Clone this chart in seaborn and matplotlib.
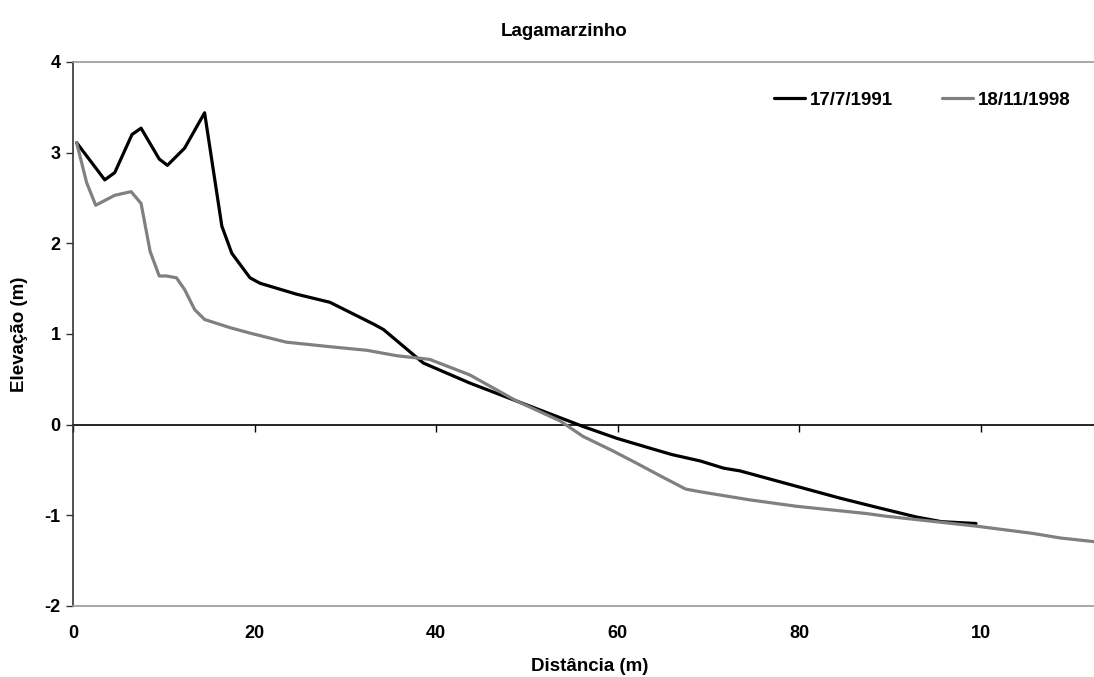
import matplotlib
matplotlib.use("Agg")
import matplotlib.pyplot as plt
import seaborn as sns
import pandas as pd

# Data
dist_1991 = [0.4, 3.5, 4.6, 6.5, 7.5, 9.5, 10.4, 12.3, 14.5, 16.4, 17.5, 19.5, 20.6, 24.6,
             28.3, 33.1, 34.2, 38.6, 43.7, 48.9, 56.2, 59.9, 63.6, 66.0, 69.1, 71.7, 73.5,
             79.0, 84.5, 88.9, 93.0, 95.7, 99.5]
elev_1991 = [3.11, 2.70, 2.78, 3.20, 3.27, 2.93, 2.86, 3.05, 3.44, 2.19, 1.89, 1.62, 1.56, 1.44,
             1.35, 1.11, 1.05, 0.68, 0.46, 0.26, -0.02, -0.15, -0.26, -0.33, -0.40, -0.48, -0.51,
             -0.66, -0.81, -0.92, -1.02, -1.07, -1.09]

dist_1998 = [0.4, 1.5, 2.5, 4.6, 6.4, 7.5, 8.5, 9.5, 10.3, 11.4, 12.3, 13.4, 14.5, 17.3, 19.5,
             23.5, 28.3, 32.4, 35.7, 39.3, 43.7, 48.9, 53.7, 56.2, 59.3, 62.0, 65.0, 67.5, 69.1,
             74.6, 79.7, 87.4, 89.6, 99.6, 105.8, 108.8, 112.5]
elev_1998 = [3.11, 2.67, 2.42, 2.53, 2.57, 2.44, 1.91, 1.64, 1.64, 1.62, 1.49, 1.27, 1.16, 1.07, 1.01,
             0.91, 0.86, 0.82, 0.76, 0.72, 0.55, 0.26, 0.04, -0.13, -0.28, -0.42, -0.58, -0.71, -0.74,
             -0.83, -0.90, -0.98, -1.01, -1.12, -1.20, -1.25, -1.29]

series_names = ["17/7/1991", "18/11/1998"]
series_colors = ["#000000", "#808080"]
x_ticks = [0, 20, 40, 60, 80, 100]
x_tick_labels = ["0", "20", "40", "60", "80", "10"]
y_ticks = [-2, -1, 0, 1, 2, 3, 4]

df = pd.concat([
    pd.DataFrame({"Distância": dist_1991, "Elevação": elev_1991, "Data": series_names[0]}),
    pd.DataFrame({"Distância": dist_1998, "Elevação": elev_1998, "Data": series_names[1]}),
], ignore_index=True)

sns.set_theme(style="white")
plt.rcParams["font.family"] = ["Liberation Sans", "DejaVu Sans"]
plt.rcParams["font.weight"] = "bold"
plt.rcParams["text.color"] = "black"
plt.rcParams["axes.labelcolor"] = "black"
plt.rcParams["xtick.color"] = "black"
plt.rcParams["ytick.color"] = "black"

FS = 13
FS2 = 13.5

fig = plt.figure(figsize=(10.94, 6.77), dpi=100)
ax = fig.add_axes([73 / 1094, 1 - 606 / 677, 1 - 73 / 1094, (606 - 62) / 677])

sns.lineplot(data=df, x="Distância", y="Elevação", hue="Data", hue_order=series_names,
             palette=dict(zip(series_names, series_colors)), linewidth=2.3, ax=ax,
             sort=False, estimator=None)

ax.set_xlim(0, 112.5)
ax.set_ylim(-2, 4)
ax.set_yticks(y_ticks)
ax.set_yticklabels([str(v) for v in y_ticks], fontsize=FS, fontweight="bold")
ax.set_xticks(x_ticks)
ax.set_xticklabels(x_tick_labels, fontsize=FS, fontweight="bold")
ax.tick_params(axis="x", length=0, pad=14)
ax.tick_params(axis="y", length=5, width=1, color="#333333", direction="out", left=True, pad=4)

for side in ["top", "bottom"]:
    ax.spines[side].set_color("#999999")
    ax.spines[side].set_linewidth(1.2)
ax.spines["right"].set_visible(False)
ax.spines["left"].set_color("#333333")
ax.spines["left"].set_linewidth(1.2)

# zero axis with downward ticks
sec = ax.secondary_xaxis(0, transform=ax.transData)
sec.set_xticks(x_ticks)
sec.set_xticklabels([])
sec.tick_params(axis="x", length=5, width=1, direction="out", color="#000000")
sec.spines["bottom"].set_color("#000000")
sec.spines["bottom"].set_linewidth(1.2)

ax.set_xlabel("Distância (m)", fontsize=FS2, fontweight="bold", labelpad=10)
ax.xaxis.set_label_coords((590 - 73) / 1021, -0.095)
ax.set_ylabel("Elevação (m)", fontsize=FS2, fontweight="bold", labelpad=12)
fig.suptitle("Lagamarzinho", x=564 / 1094, y=1 - 31 / 677, va="center", fontsize=FS2,
             fontweight="bold")

leg = ax.legend(title=None, loc="upper right", ncol=2, frameon=False, fontsize=FS2,
                bbox_to_anchor=(0.994, 0.977), handlelength=1.65, handletextpad=0.27,
                columnspacing=2.6)
for t in leg.get_texts():
    t.set_fontweight("bold")

fig.savefig("out.png", dpi=100, facecolor="white")
